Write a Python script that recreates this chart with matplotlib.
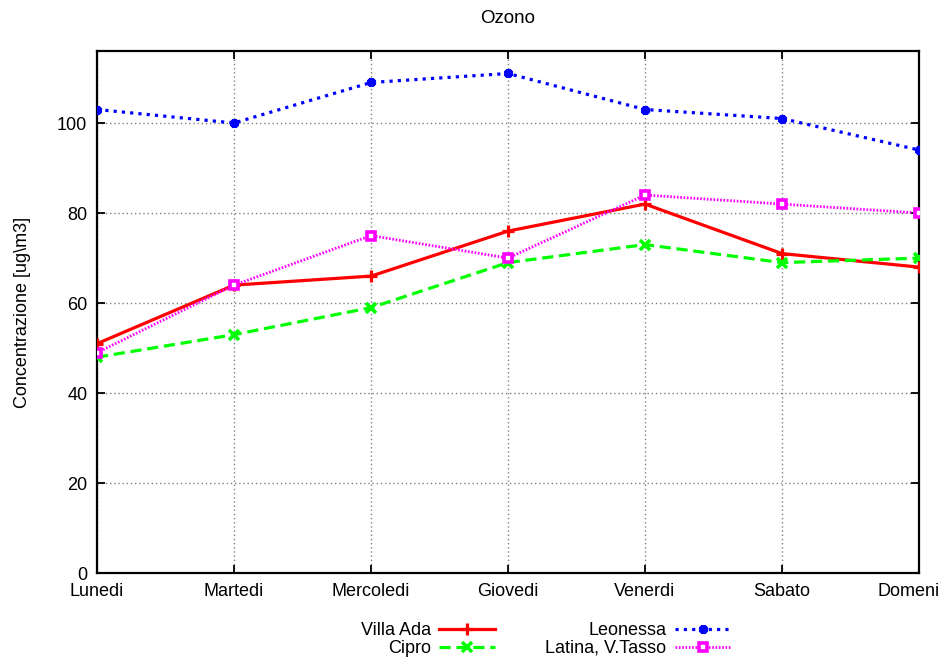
import matplotlib
matplotlib.use("Agg")
import matplotlib.pyplot as plt
import matplotlib.transforms as mtransforms

plt.rcParams['font.family'] = ['Liberation Sans', 'DejaVu Sans']

giorni = ["Lunedi", "Martedi", "Mercoledi", "Giovedi", "Venerdi", "Sabato", "Domeni"]
villa_ada = [51, 64, 66, 76, 82, 71, 68]
cipro = [48, 53, 59, 69, 73, 69, 70]
leonessa = [103, 100, 109, 111, 103, 101, 94]
latina = [49, 64, 75, 70, 84, 82, 80]

x = list(range(len(giorni)))

fig = plt.figure(figsize=(9.44, 6.62), dpi=100)
ax = fig.add_axes([0.1028, 0.134, 0.9735 - 0.1028, 0.923 - 0.134])

# serie
ax.plot(x, villa_ada, color="#ff0000", lw=2.3, marker="+", ms=9, mew=2.3,
        label="Villa Ada", zorder=3)
ax.plot(x, cipro, color="#00ff00", lw=2.3, dashes=(3.5, 1.8), marker="x", ms=6.5,
        mew=2.6, label="Cipro", zorder=3)
ax.plot(x, leonessa, color="#0000ff", lw=2.3, dashes=(1, 1.6), marker=(8, 2, 0),
        ms=6.5, mew=2.8, label="Leonessa", zorder=3)
ax.plot(x, latina, color="#ff00ff", lw=2.0, dashes=(0.6, 0.6), marker="s", ms=6,
        mew=2.6, mfc="white", mec="#ff00ff", label="Latina, V.Tasso", zorder=3)

ax.set_xlim(0, 6)
ax.set_ylim(0, 116)
ax.set_xticks(x)
ax.set_xticklabels(giorni)
ax.set_yticks([0, 20, 40, 60, 80, 100])

ax.grid(True, color="#808080", lw=1.0, linestyle=(0, (1, 2)))
ax.tick_params(direction="in", length=6, width=1.3, top=True, right=True,
               labelsize=13, pad=7)
for s in ax.spines.values():
    s.set_linewidth(1.6)

# ultimo nome tagliato come nell'originale
lab = ax.get_xticklabels()[-1]
lab.set_ha("right")
lab.set_transform(lab.get_transform() +
                  mtransforms.ScaledTranslation(0.21, 0, fig.dpi_scale_trans))

ax.set_ylabel("Concentrazione [ug\\m3]", fontsize=13, labelpad=19)
ax.set_title("Ozono", fontsize=13.5, pad=20)

ax.legend(loc="center", bbox_to_anchor=(0.578, 0.034),
          bbox_transform=fig.transFigure, ncol=2, markerfirst=False,
          frameon=False, fontsize=13, handlelength=3.1, handletextpad=0.45,
          columnspacing=2.8, labelspacing=0.05, borderaxespad=0)

fig.savefig("out.png", dpi=100)
